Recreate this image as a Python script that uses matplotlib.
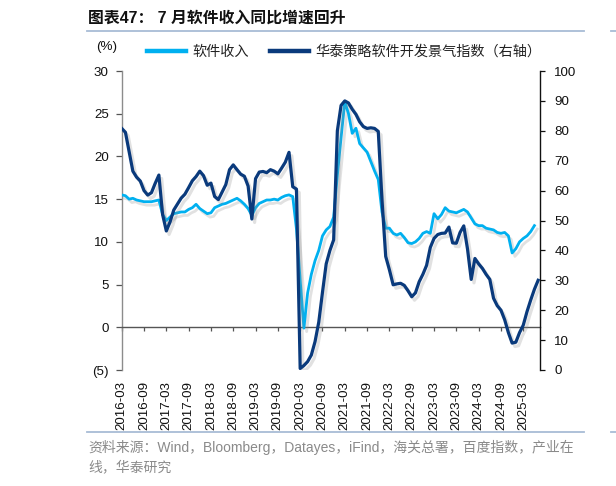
import matplotlib
matplotlib.use('Agg')
import matplotlib.pyplot as plt
import matplotlib.patheffects as pe
from matplotlib.lines import Line2D
import numpy as np

plt.rcParams['font.family'] = ['Liberation Sans', 'Noto Sans CJK SC', 'DejaVu Sans']

# ---------------- data ----------------
tick_labels = ['2016-03', '2016-09', '2017-03', '2017-09', '2018-03', '2018-09',
               '2019-03', '2019-09', '2020-03', '2020-09', '2021-03', '2021-09',
               '2022-03', '2022-09', '2023-03', '2023-09', '2024-03', '2024-09',
               '2025-03']
tick_step = 6  # months between labels

# 软件收入 累计同比 (%), monthly from 2016-03, left axis
software_revenue = [
    15.5, 15.4, 15.0, 15.1, 14.9, 14.8, 14.7, 14.7, 14.7, 14.8,
    14.9, 13.2, 12.5, 12.9, 13.3, 13.4, 13.5, 13.5, 13.8, 14.0,
    14.4, 13.9, 13.6, 13.3, 13.4, 14.0, 14.2, 14.4, 14.5, 14.7,
    14.9, 15.1, 14.8, 14.4, 13.9, 13.1, 14.0, 14.5, 14.7, 14.9,
    14.9, 15.0, 14.9, 15.2, 15.4, 15.5, 15.3, 11.5, 5.5, -0.1,
    4.0, 6.2, 7.8, 9.0, 10.7, 11.4, 11.8, 12.9, 17.8, 22.2,
    26.4, 25.0, 22.7, 23.3, 21.5, 21.0, 20.5, 19.4, 18.3, 17.3,
    13.5, 11.6, 11.6, 11.0, 10.8, 11.0, 10.5, 9.9, 9.8, 10.0,
    10.4, 11.0, 11.2, 11.0, 13.3, 12.7, 13.2, 14.0, 13.6, 13.5,
    13.4, 13.6, 13.8, 13.5, 12.8, 12.1, 11.9, 11.9, 11.6, 11.5,
    11.4, 11.1, 11.0, 11.1, 10.7, 8.7, 9.2, 10.0, 10.4, 10.7,
    11.2, 11.9,
]

# 华泰策略软件开发景气指数, monthly from 2016-03, right axis
dev_index = [
    80.8, 79.5, 73.0, 66.5, 64.5, 63.2, 60.0, 58.5, 59.3, 62.4,
    65.2, 52.0, 46.5, 49.5, 53.5, 55.5, 57.5, 58.8, 61.0, 63.3,
    64.7, 66.5, 65.0, 61.8, 62.5, 58.0, 57.0, 59.5, 62.0, 67.0,
    68.6, 67.0, 65.5, 64.8, 61.5, 50.5, 64.0, 66.2, 66.4, 66.0,
    67.0, 66.5, 65.6, 67.5, 69.5, 72.8, 61.3, 60.5, 0.5, 1.5,
    2.8, 5.0, 9.5, 16.0, 26.0, 35.5, 40.0, 43.5, 80.0, 88.5,
    90.0, 89.3, 87.2, 85.5, 83.0, 81.4, 80.8, 81.0, 80.8, 79.8,
    57.0, 38.0, 33.5, 28.5, 28.8, 29.0, 28.3, 26.5, 24.5, 25.8,
    29.5, 32.0, 35.0, 41.0, 44.0, 45.3, 45.7, 45.8, 47.8, 42.5,
    42.4, 46.0, 48.2, 40.5, 30.3, 37.3, 35.5, 34.0, 32.0, 30.3,
    24.0, 21.5, 20.0, 16.8, 12.5, 9.0, 9.3, 12.5, 15.0, 19.5,
    23.4, 27.0, 30.0,
]

left_ticks = [-5, 0, 5, 10, 15, 20, 25, 30]
left_labels = ['(5)', '0', '5', '10', '15', '20', '25', '30']
right_ticks = list(range(0, 101, 10))

series_names = ['软件收入', '华泰策略软件开发景气指数（右轴）']
title = '图表47： 7 月软件收入同比增速回升'
source = ('资料来源：Wind，Bloomberg，Datayes，iFind，海关总署，百度指数，产业在\n'
          '线，华泰研究')

# ---------------- figure ----------------
W, H = 616, 486
fig = plt.figure(figsize=(W / 100, H / 100), dpi=100)

L, R, T, B = 121.7, 540.0, 71.0, 370.0
ax = fig.add_axes([L / W, 1 - B / H, (R - L) / W, (B - T) / H])
ax.set_facecolor('none')

light = '#00B0F0'
dark = '#0A3A7C'
fs = 9.6

shadow = [pe.SimpleLineShadow(offset=(2, -2.5), shadow_color='#8a8a8a', alpha=0.25),
          pe.Normal()]

x1 = np.arange(len(software_revenue))
x2 = np.arange(len(dev_index))

l1, = ax.plot(x1, software_revenue, color=light, lw=2.0, path_effects=shadow,
              solid_joinstyle='round', zorder=3)
ax.set_ylim(-5, 30)
ax.set_xlim(0, 112.5)
ax.set_yticks(left_ticks)
ax.set_yticklabels(left_labels)

for s in ['top', 'right']:
    ax.spines[s].set_visible(False)
ax.spines['left'].set_color('#8c8c8c')
ax.spines['left'].set_linewidth(1.0)
ax.spines['bottom'].set_position(('data', 0))
ax.spines['bottom'].set_color('#555555')
ax.spines['bottom'].set_linewidth(1.0)

xt = np.arange(0, tick_step * len(tick_labels), tick_step)
ax.set_xticks(xt)
ax.tick_params(axis='x', direction='out', length=3, width=0.9, color='#555555',
               labelbottom=False)
ax.tick_params(axis='y', direction='out', length=4.5, width=0.9, color='#555555',
               labelsize=fs, pad=4.8, labelcolor='#111111')

sec = ax.secondary_xaxis(0.0)
sec.set_xticks(xt)
sec.set_xticklabels(tick_labels, rotation=90, fontsize=fs, color='#111111')
sec.tick_params(length=0, pad=8)
sec.spines['bottom'].set_visible(False)

ax2 = ax.twinx()
l2, = ax2.plot(x2, dev_index, color=dark, lw=2.3, path_effects=shadow,
               solid_joinstyle='round', zorder=4)
ax2.set_ylim(0, 100)
ax2.set_yticks(right_ticks)
for s in ['top', 'left', 'bottom']:
    ax2.spines[s].set_visible(False)
ax2.spines['right'].set_color('#111111')
ax2.spines['right'].set_linewidth(1.0)
ax2.tick_params(axis='y', direction='out', length=3.5, width=0.9, color='#111111',
                labelsize=fs, pad=6.8, labelcolor='#111111')

# ---------------- texts ----------------
fig.text(88 / W, 1 - 18 / H, title, fontsize=11.4, fontweight='bold',
         va='center', ha='left', color='#111111')
fig.add_artist(Line2D([87 / W, 584 / W], [1 - 31 / H] * 2, color='#A8BCD6', lw=1.3))
fig.add_artist(Line2D([87 / W, 584 / W], [1 - 432 / H] * 2, color='#A8BCD6', lw=1.3))
fig.add_artist(Line2D([611 / W, 1.0], [1 - 31 / H] * 2, color='#A8BCD6', lw=1.3))
fig.add_artist(Line2D([611 / W, 1.0], [1 - 432 / H] * 2, color='#A8BCD6', lw=1.3))

fig.text(107 / W, 1 - 47 / H, '(%)', fontsize=fs, ha='center', va='center',
         color='#111111')

fig.legend([l1, l2], series_names, loc='center left',
           bbox_to_anchor=(147 / W, 1 - 52 / H), ncol=2, frameon=False,
           fontsize=10.2, handlelength=2.75, handletextpad=0.45, columnspacing=1.5,
           borderaxespad=0, borderpad=0)
leg = fig.legends[0]
for h in leg.legend_handles:
    h.set_linewidth(3.2)
    h.set_path_effects([])
for t in leg.get_texts():
    t.set_color('#222222')

fig.text(88 / W, 1 - 457 / H, source, fontsize=10.0, color='#8a8a8a',
         ha='left', va='center', linespacing=1.5)

fig.savefig('out.png', dpi=100)
